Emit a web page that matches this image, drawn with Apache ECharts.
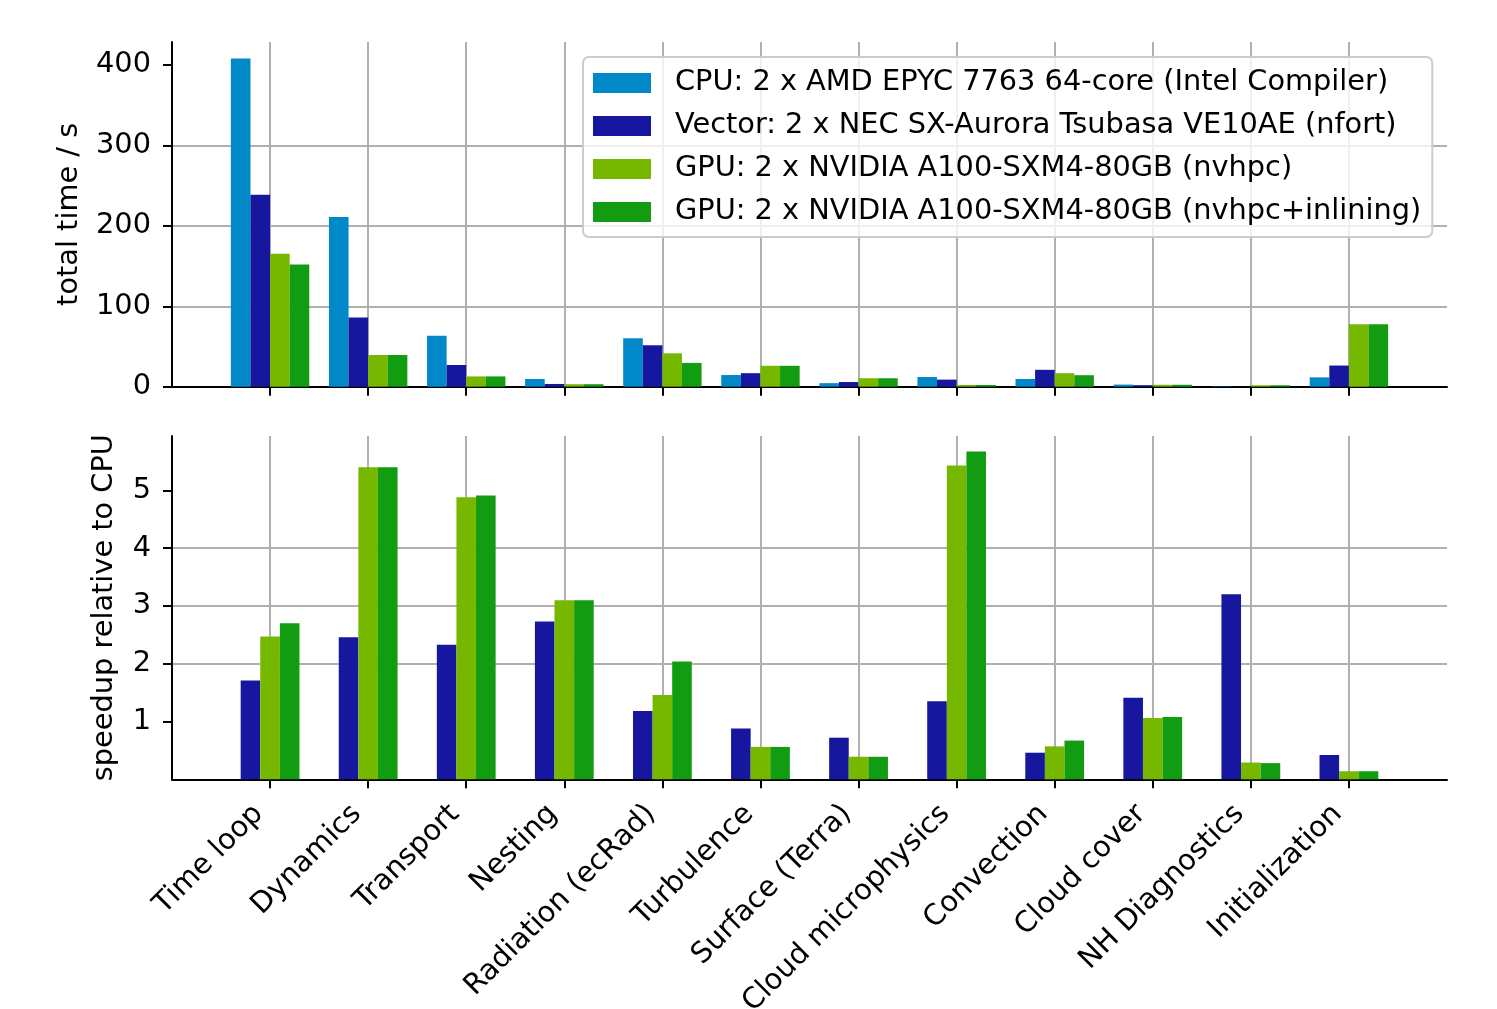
<!DOCTYPE html>
<html><head><meta charset="utf-8">
<script src="https://cdn.jsdelivr.net/npm/echarts@6/dist/echarts.min.js"></script>
<style>html,body{margin:0;padding:0;background:#fff}#c{width:1497px;height:1009px}</style>
</head><body><div id="c"></div>
<script>
const categories = ['Time loop','Dynamics','Transport','Nesting','Radiation (ecRad)','Turbulence','Surface (Terra)','Cloud microphysics','Convection','Cloud cover','NH Diagnostics','Initialization'];
const seriesNames = ['CPU: 2 x AMD EPYC 7763 64-core (Intel Compiler)','Vector: 2 x NEC SX-Aurora Tsubasa VE10AE (nfort)','GPU: 2 x NVIDIA A100-SXM4-80GB (nvhpc)','GPU: 2 x NVIDIA A100-SXM4-80GB (nvhpc+inlining)'];
const timeCPU    = [408, 211, 63.4, 9.6, 60.2, 14.5, 4.4, 12.0, 9.6, 2.6, 0.5, 11.6];
const timeVector = [238.5, 86, 27, 3.4, 51.5, 16.8, 5.8, 8.8, 21.0, 1.9, 0.2, 26.3];
const timeGPU    = [165.4, 39.4, 12.8, 3.1, 41.5, 26.0, 10.5, 2.2, 16.8, 2.4, 1.8, 77.6];
const timeGPUinl = [151.8, 39.4, 12.8, 3.1, 29.6, 26.0, 10.5, 2.1, 14.3, 2.4, 1.8, 77.6];
const speedVector = [1.71, 2.46, 2.33, 2.73, 1.18, 0.88, 0.72, 1.35, 0.46, 1.41, 3.20, 0.42];
const speedGPU    = [2.47, 5.40, 4.88, 3.10, 1.46, 0.56, 0.39, 5.43, 0.57, 1.06, 0.29, 0.14];
const speedGPUinl = [2.70, 5.40, 4.91, 3.10, 2.04, 0.56, 0.39, 5.67, 0.67, 1.08, 0.28, 0.14];
const timeTicks = [0, 100, 200, 300, 400];
const speedTicks = [1, 2, 3, 4, 5];
const colors = ['#0088c8', '#16169e', '#76b700', '#129c12'];

const FONT = 'DejaVu Sans';
const FS = 28.8;
const xCats = ['_s', ...categories, '_e'];
const pad = a => [null, ...a, null];
const inner = (i) => i > 0 && i < xCats.length - 1;
const axisLineStyle = {show: true, lineStyle: {color: '#000', width: 2}};
const gridLine = {color: '#b0b0b0', width: 2};

function xAxis(gi, showLabels) {
  return {
    type: 'category', gridIndex: gi, data: xCats, boundaryGap: false,
    axisLine: axisLineStyle,
    axisTick: {show: true, length: 9, lineStyle: {color: '#000', width: 2}, interval: inner},
    axisLabel: {show: showLabels, interval: inner, rotate: 45, fontSize: FS, fontFamily: FONT, color: '#000',
      margin: 19, padding: [0, 16, 0, 0], formatter: v => v.startsWith('_') ? '' : v},
    splitLine: {show: true, interval: inner, lineStyle: gridLine}
  };
}
function yAxis(gi, max, ticks, name, gap) {
  return {
    type: 'value', gridIndex: gi, min: 0, max: max,
    name: name, nameLocation: 'middle', nameGap: gap,
    nameTextStyle: {fontSize: FS, fontFamily: FONT, color: '#000'},
    axisLine: axisLineStyle,
    axisTick: {show: true, length: 9, lineStyle: {color: '#000', width: 2}, customValues: ticks},
    axisLabel: {fontSize: FS, fontFamily: FONT, color: '#000', margin: 21, customValues: ticks},
    splitLine: {show: true, lineStyle: gridLine, showMaxLine: false, showMinLine: false}
  };
}
function bar(name, data, color, xi) {
  return {type: 'bar', name: name, xAxisIndex: xi, yAxisIndex: xi, data: pad(data),
    barWidth: 19.6, barGap: '0%', itemStyle: {color: color}};
}

const chart = echarts.init(document.getElementById('c'), null, {renderer: 'canvas'});
chart.setOption({
  animation: false,
  backgroundColor: '#fff',
  textStyle: {fontFamily: FONT},
  grid: [
    {left: 172, width: 1275, top: 42, height: 344.7, containLabel: false, outerBoundsMode: 'none'},
    {left: 172, width: 1275, top: 436, height: 343.3, containLabel: false, outerBoundsMode: 'none'}
  ],
  xAxis: [xAxis(0, false), xAxis(1, true)],
  yAxis: [yAxis(0, 428.5, timeTicks, 'total time / s', 88), yAxis(1, 5.94, speedTicks, 'speedup relative to CPU', 53)],
  legend: {
    orient: 'vertical', left: 583, top: 57, data: seriesNames,
    itemWidth: 58, itemHeight: 20, itemGap: 11, icon: 'rect',
    padding: [10, 11, 9, 10],
    borderColor: '#cccccc', borderWidth: 2, borderRadius: 6,
    backgroundColor: 'rgba(255,255,255,0.8)',
    textStyle: {fontSize: FS, fontFamily: FONT, color: '#000', lineHeight: 32, padding: [0, 0, 0, 19]}
  },
  series: [
    bar(seriesNames[0], timeCPU, colors[0], 0),
    bar(seriesNames[1], timeVector, colors[1], 0),
    bar(seriesNames[2], timeGPU, colors[2], 0),
    bar(seriesNames[3], timeGPUinl, colors[3], 0),
    bar(seriesNames[1], speedVector, colors[1], 1),
    bar(seriesNames[2], speedGPU, colors[2], 1),
    bar(seriesNames[3], speedGPUinl, colors[3], 1)
  ]
});
</script></body></html>
